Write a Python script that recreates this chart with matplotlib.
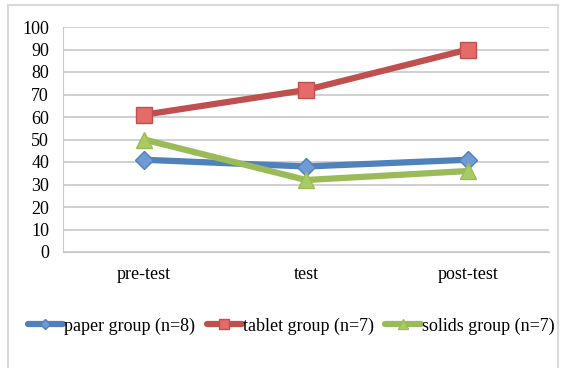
import matplotlib.pyplot as plt
from matplotlib.patches import Rectangle

categories = ['pre-test', 'test', 'post-test']
paper = [41, 38, 41]
tablet = [61, 72, 90]
solids = [50, 32, 36]

series = [
    ('paper group (n=8)', paper, '#4f81bd', 'D', '#6f9ad3'),
    ('tablet group (n=7)', tablet, '#c0504d', 's', '#e46b68'),
    ('solids group (n=7)', solids, '#9bbb59', '^', '#a9cc62'),
]

plt.rcParams['font.family'] = ['Liberation Serif', 'DejaVu Serif']

fig = plt.figure(figsize=(5.63, 3.68), dpi=100)
ax = fig.add_axes([63 / 563, 1 - 252 / 368, 486 / 563, 225 / 368])

# chart frame
fig.patches.append(Rectangle((8 / 563, -0.01), 550 / 563, 1 - 5 / 368 + 0.01,
                             transform=fig.transFigure, fill=False,
                             edgecolor='#d9d9d9', linewidth=1.5))

x = list(range(len(categories)))
for label, vals, color, marker, face in series:
    ax.plot(x, vals, color=color, linewidth=4.5, marker=marker,
            markersize=11 if marker != 'D' else 9, markerfacecolor=face,
            markeredgecolor=color, markeredgewidth=1, label=label,
            solid_capstyle='round')

ax.set_xlim(-0.5, 2.5)
ax.set_ylim(0, 100)
ax.set_yticks(range(0, 101, 10))
ax.set_xticks(x)
ax.set_xticklabels(categories)
ax.yaxis.grid(True, color='#c8c8c8', linewidth=1.2)
ax.set_axisbelow(True)
for side in ['top', 'right']:
    ax.spines[side].set_visible(False)
ax.spines['left'].set_color('#c8c8c8')
ax.spines['bottom'].set_color('#c8c8c8')
ax.tick_params(length=0, labelsize=13)
ax.tick_params(axis='y', pad=10)
ax.tick_params(axis='x', pad=10)

fig.legend(loc='center', bbox_to_anchor=(291 / 563, 1 - 326 / 368), ncol=3,
           frameon=False, fontsize=13, handlelength=1.95, handletextpad=0.05,
           columnspacing=0.65, borderaxespad=0, markerscale=0.6)

fig.savefig('out.png', dpi=100)
